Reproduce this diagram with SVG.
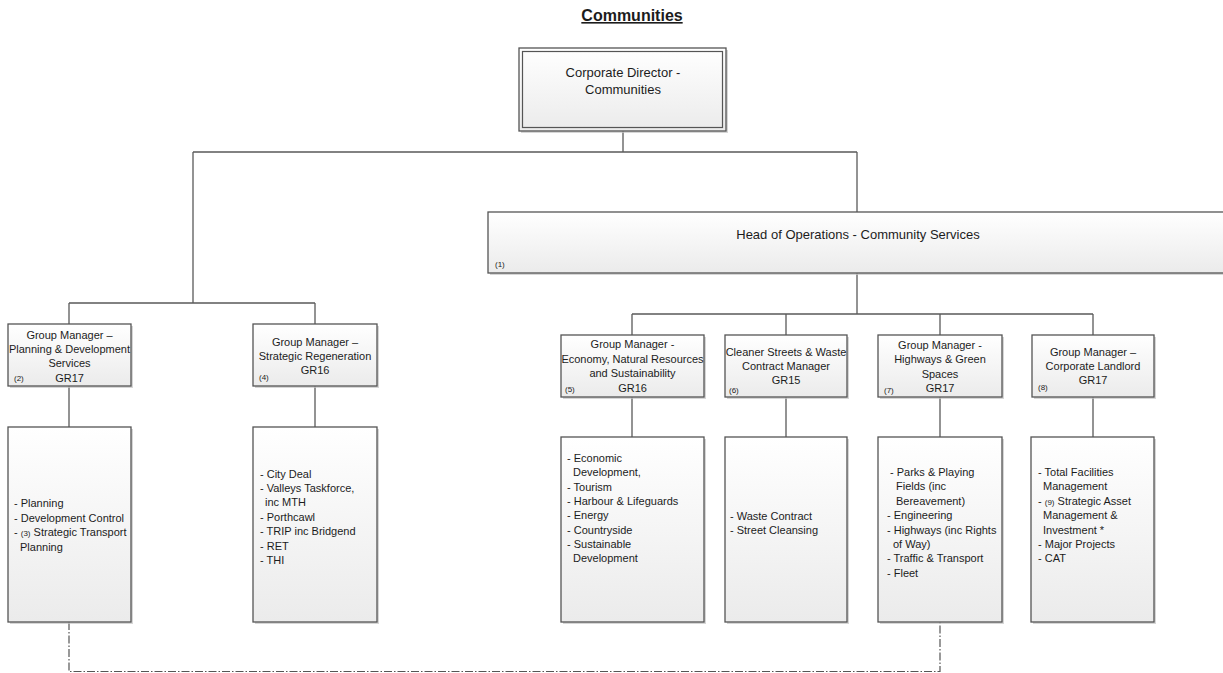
<svg xmlns="http://www.w3.org/2000/svg" width="1223" height="673" viewBox="0 0 1223 673">
<defs>
<linearGradient id="g" x1="0" y1="0" x2="0" y2="1">
<stop offset="0" stop-color="#ffffff"/>
<stop offset="1" stop-color="#ebebeb"/>
</linearGradient>
</defs>
<style>
.box{fill:url(#g);stroke:#555;stroke-width:1.3}
.sh{fill:#c4c4c4;opacity:0.7}
.c{fill:none;stroke:#5a5a5a;stroke-width:1.3}
.d{fill:none;stroke:#555;stroke-width:1.2;stroke-dasharray:8 2 1.5 2}
text{font-family:"Liberation Sans",Arial,sans-serif;fill:#1c1c1c}
.t11{font-size:11px}
.t13{font-size:13px}
.m{text-anchor:middle}
.s{font-size:8px}
.title{font-size:16px;font-weight:bold;text-decoration:underline}
</style>
<rect width="1223" height="673" fill="#fff"/>
<text class="title m" x="632" y="21">Communities</text>

<g id="connectors">
<path class="c" d="M623 131V152M193 152H857M857 152V212M193 152V303M69 303H315M69 303V324M315 303V324M69 386V427M315 386V427"/>
<path class="c" d="M857 273V314M632 314H1093M632 314V335M786 314V335M940 314V335M1093 314V335"/>
<path class="c" d="M632 397V437M786 397V437M940 397V437M1093 397V437"/>
<path class="d" d="M69 622V671.5H940V622"/>
</g>

<g id="director">
<rect class="sh" x="521" y="50" width="207" height="83"/>
<rect class="box" x="519" y="48" width="207" height="83"/>
<rect x="522.5" y="51.5" width="200" height="76" fill="none" stroke="#555" stroke-width="1.2"/>
<text class="t13 m" x="623" y="77">Corporate Director -</text>
<text class="t13 m" x="623" y="94">Communities</text>
</g>

<g id="head">
<rect class="sh" x="490" y="214" width="740" height="61"/>
<rect class="box" x="488" y="212" width="740" height="61"/>
<text class="t13 m" x="858" y="239">Head of Operations - Community Services</text>
<text class="s" x="495" y="267">(1)</text>
</g>

<g id="gm-planning">
<rect class="sh" x="10" y="326" width="123" height="62"/>
<rect class="box" x="8" y="324" width="123" height="62"/>
<text class="t11 m" x="69.5" y="339">Group Manager –</text>
<text class="t11 m" x="69.5" y="353">Planning &amp; Development</text>
<text class="t11 m" x="69.5" y="367">Services</text>
<text class="t11 m" x="69.5" y="382">GR17</text>
<text class="s" x="14" y="381">(2)</text>
</g>

<g id="gm-regeneration">
<rect class="sh" x="255" y="326" width="124" height="62"/>
<rect class="box" x="253" y="324" width="124" height="62"/>
<text class="t11 m" x="315" y="346">Group Manager –</text>
<text class="t11 m" x="315" y="360">Strategic Regeneration</text>
<text class="t11 m" x="315" y="374">GR16</text>
<text class="s" x="259" y="380">(4)</text>
</g>

<g id="gm-economy">
<rect class="sh" x="563" y="337" width="143" height="62"/>
<rect class="box" x="561" y="335" width="143" height="62"/>
<text class="t11 m" x="632.5" y="348">Group Manager -</text>
<text class="t11 m" x="632.5" y="363">Economy, Natural Resources</text>
<text class="t11 m" x="632.5" y="377">and Sustainability</text>
<text class="t11 m" x="632.5" y="392">GR16</text>
<text class="s" x="565" y="392">(5)</text>
</g>

<g id="gm-cleaner">
<rect class="sh" x="727" y="337" width="122" height="62"/>
<rect class="box" x="725" y="335" width="122" height="62"/>
<text class="t11 m" x="786" y="356">Cleaner Streets &amp; Waste</text>
<text class="t11 m" x="786" y="370">Contract Manager</text>
<text class="t11 m" x="786" y="384">GR15</text>
<text class="s" x="729" y="393">(6)</text>
</g>

<g id="gm-highways">
<rect class="sh" x="880" y="337" width="124" height="62"/>
<rect class="box" x="878" y="335" width="124" height="62"/>
<text class="t11 m" x="940" y="349">Group Manager -</text>
<text class="t11 m" x="940" y="363">Highways &amp; Green</text>
<text class="t11 m" x="940" y="378">Spaces</text>
<text class="t11 m" x="940" y="392">GR17</text>
<text class="s" x="884" y="393">(7)</text>
</g>

<g id="gm-landlord">
<rect class="sh" x="1034" y="337" width="122" height="62"/>
<rect class="box" x="1032" y="335" width="122" height="62"/>
<text class="t11 m" x="1093" y="356">Group Manager –</text>
<text class="t11 m" x="1093" y="370">Corporate Landlord</text>
<text class="t11 m" x="1093" y="384">GR17</text>
<text class="s" x="1038" y="390">(8)</text>
</g>

<g id="planning-services">
<rect class="sh" x="10" y="429" width="123" height="195"/>
<rect class="box" x="8" y="427" width="123" height="195"/>
<text class="t11" x="14" y="507">- Planning</text>
<text class="t11" x="14" y="522">- Development Control</text>
<text class="t11" x="14" y="536">- <tspan class="s">(3)</tspan> Strategic Transport</text>
<text class="t11" x="20" y="551">Planning</text>
</g>

<g id="regeneration-services">
<rect class="sh" x="255" y="429" width="124" height="195"/>
<rect class="box" x="253" y="427" width="124" height="195"/>
<text class="t11" x="260" y="478">- City Deal</text>
<text class="t11" x="260" y="492">- Valleys Taskforce,</text>
<text class="t11" x="265" y="506">inc MTH</text>
<text class="t11" x="260" y="521">- Porthcawl</text>
<text class="t11" x="260" y="535">- TRIP inc Bridgend</text>
<text class="t11" x="260" y="550">- RET</text>
<text class="t11" x="260" y="564">- THI</text>
</g>

<g id="economy-services">
<rect class="sh" x="563" y="439" width="143" height="185"/>
<rect class="box" x="561" y="437" width="143" height="185"/>
<text class="t11" x="567" y="462">- Economic</text>
<text class="t11" x="573" y="476">Development,</text>
<text class="t11" x="567" y="491">- Tourism</text>
<text class="t11" x="567" y="505">- Harbour &amp; Lifeguards</text>
<text class="t11" x="567" y="519">- Energy</text>
<text class="t11" x="567" y="534">- Countryside</text>
<text class="t11" x="567" y="548">- Sustainable</text>
<text class="t11" x="573" y="562">Development</text>
</g>

<g id="cleaner-services">
<rect class="sh" x="727" y="439" width="122" height="185"/>
<rect class="box" x="725" y="437" width="122" height="185"/>
<text class="t11" x="730" y="520">- Waste Contract</text>
<text class="t11" x="730" y="534">- Street Cleansing</text>
</g>

<g id="highways-services">
<rect class="sh" x="880" y="439" width="124" height="185"/>
<rect class="box" x="878" y="437" width="124" height="185"/>
<text class="t11" x="890" y="476">- Parks &amp; Playing</text>
<text class="t11" x="896" y="490">Fields (inc</text>
<text class="t11" x="896" y="505">Bereavement)</text>
<text class="t11" x="887" y="519">- Engineering</text>
<text class="t11" x="887" y="534">- Highways (inc Rights</text>
<text class="t11" x="893" y="548">of Way)</text>
<text class="t11" x="887" y="562">- Traffic &amp; Transport</text>
<text class="t11" x="887" y="577">- Fleet</text>
</g>

<g id="landlord-services">
<rect class="sh" x="1033" y="439" width="123" height="185"/>
<rect class="box" x="1031" y="437" width="123" height="185"/>
<text class="t11" x="1038" y="476">- Total Facilities</text>
<text class="t11" x="1043" y="490">Management</text>
<text class="t11" x="1038" y="505">- <tspan class="s">(9)</tspan> Strategic Asset</text>
<text class="t11" x="1043" y="519">Management &amp;</text>
<text class="t11" x="1043" y="534">Investment *</text>
<text class="t11" x="1038" y="548">- Major Projects</text>
<text class="t11" x="1038" y="562">- CAT</text>
</g>
</svg>
